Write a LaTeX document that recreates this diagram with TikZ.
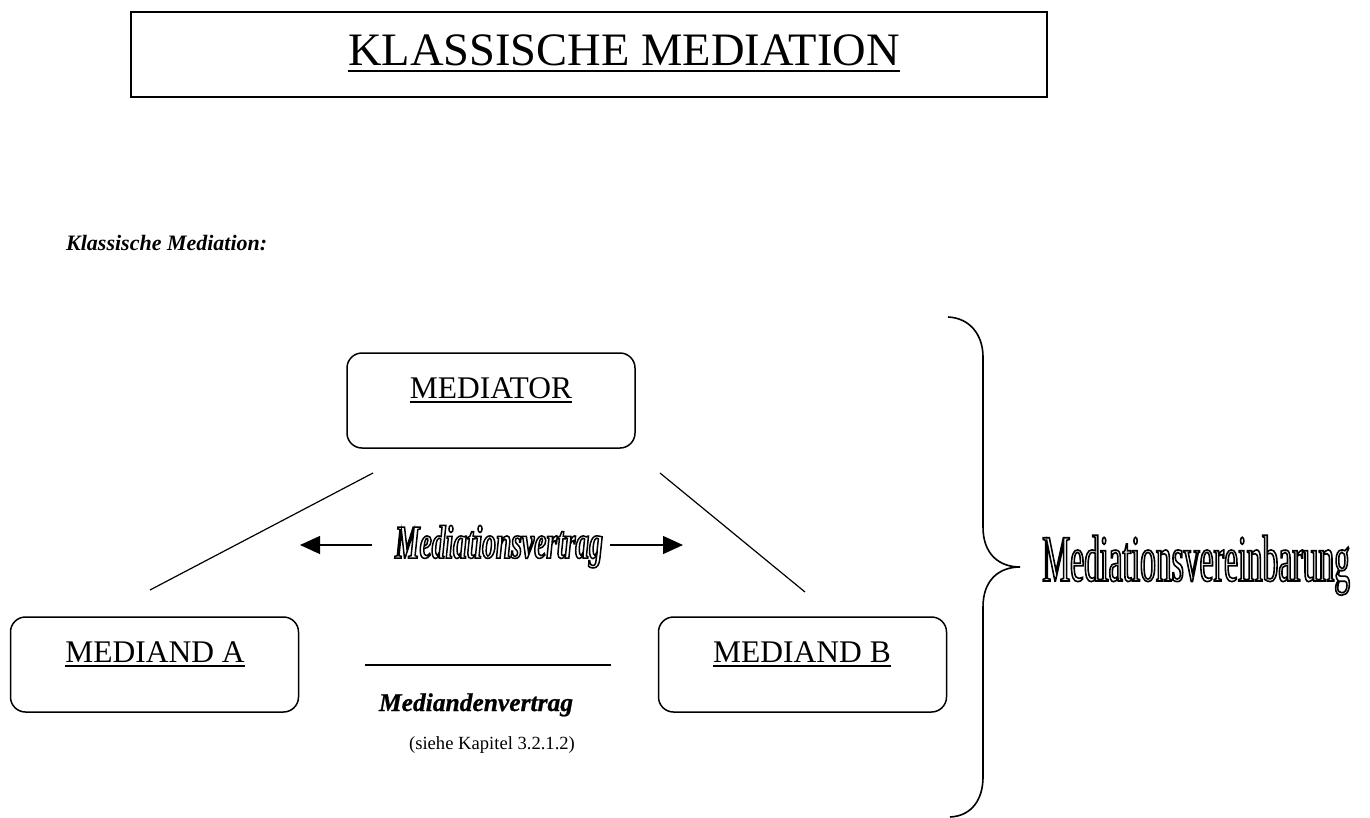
\documentclass[tikz,border=0pt]{standalone}
\usepackage{fontspec}
\setmainfont{Liberation Serif}
\usetikzlibrary{arrows.meta}

% narrow display faces
\newfontfamily\vertragfont[FakeStretch=0.585]{Liberation Serif Bold Italic}
\newfontfamily\vereinbarungfont[FakeStretch=0.477]{Liberation Serif}
\newfontfamily\mediandenfont[FakeBold=0.8]{Liberation Serif Bold Italic}

% hollow lettering: glyph outlines stroked, interiors left blank
\newcommand{\hollow}[2][1.4]{\special{pdf:literal q 1 Tr #1 w}#2\special{pdf:literal Q}}

\begin{document}
\begin{tikzpicture}[x=1pt,y=-1pt,
  frame/.style={draw, line width=1.8pt, inner sep=0pt},
  partybox/.style={draw, line width=1.5pt, rounded corners=15pt, inner sep=0pt,
    minimum width=288pt, minimum height=95pt},
  label/.style={inner sep=0pt, anchor=base},
  uline/.style={line width=1.8pt},
  link/.style={line width=1.2pt},
  flow/.style={line width=1.2pt, -{Triangle[length=20pt,width=18pt]}},
  brace/.style={line width=1.6pt}]
\useasboundingbox (0,0) rectangle (1370,817);

% heading frame
\node[frame, minimum width=916pt, minimum height=85pt] (head) at (589,54.5) {};
\node[label, font=\fontsize{46.5}{50}\selectfont] (headtxt) at (624,65) {KLASSISCHE MEDIATION};
\draw[line width=2.8pt] ([yshift=-6pt]headtxt.base west) -- ([yshift=-6pt]headtxt.base east);

% section caption
\node[label, anchor=base west, font=\fontsize{22}{26}\selectfont\bfseries\itshape]
  (caption) at (66,250) {Klassische Mediation:};

% the three parties
\node[partybox] (mediator) at (491,400.5) {};
\node[partybox] (medA) at (154.5,664.5) {};
\node[partybox] (medB) at (802.5,664.5) {};

\node[label, font=\fontsize{31.5}{36}\selectfont] (mediatortxt) at (491,398) {MEDIATOR};
\node[label, font=\fontsize{31.5}{36}\selectfont] (medAtxt) at (155,662) {MEDIAND A};
\node[label, font=\fontsize{31.5}{36}\selectfont] (medBtxt) at (802,662) {MEDIAND B};
\foreach \t in {mediatortxt,medAtxt,medBtxt}
  \draw[uline] ([yshift=-4pt]\t.base west) -- ([yshift=-4pt]\t.base east);

% diagonal links from the mediator to the parties
\coordinate (dl1) at (373,473);
\coordinate (dl2) at (150,590);
\coordinate (dr1) at (660,473);
\coordinate (dr2) at (805,592);
\draw[link] (dl1) -- (dl2);
\draw[link] (dr1) -- (dr2);

% mediation contract with arrows
\node[label, font=\fontsize{47}{52}\vertragfont] (mvertrag) at (499,558)
  {\hollow[1.5]{Mediationsvertrag}};
\coordinate (al1) at (372,545);
\coordinate (al2) at (300,545);
\coordinate (ar1) at (610,545);
\coordinate (ar2) at (683,545);
\draw[flow] (al1) -- (al2);
\draw[flow] (ar1) -- (ar2);

% contract between the parties
\coordinate (h1) at (365,665);
\coordinate (h2) at (611,665);
\draw[uline] (h1) -- (h2);
\node[label, font=\fontsize{25.5}{30}\mediandenfont] (mdvertrag) at (476,711) {Mediandenvertrag};
\node[label, font=\fontsize{18.6}{22}\selectfont] (ref) at (492,749)
  {(siehe Kapitel 3.2.1.2)};

% curly brace with the overall agreement
\coordinate (bt) at (948,317);
\coordinate (tip) at (1020,567);
\coordinate (bb) at (950,817);
\draw[brace] (bt) .. controls (970,318) and (983,335) .. (983,357)
  -- (983,527) .. controls (983,555) and (1000,567) .. (tip)
  .. controls (1000,567) and (983,579) .. (983,607)
  -- (983,777) .. controls (983,799) and (972,816) .. (bb);
\node[label, anchor=base west, font=\fontsize{66}{70}\vereinbarungfont] (mverein) at (1042,581)
  {\hollow[1.6]{Mediationsvereinbarung}};
\end{tikzpicture}
\end{document}
